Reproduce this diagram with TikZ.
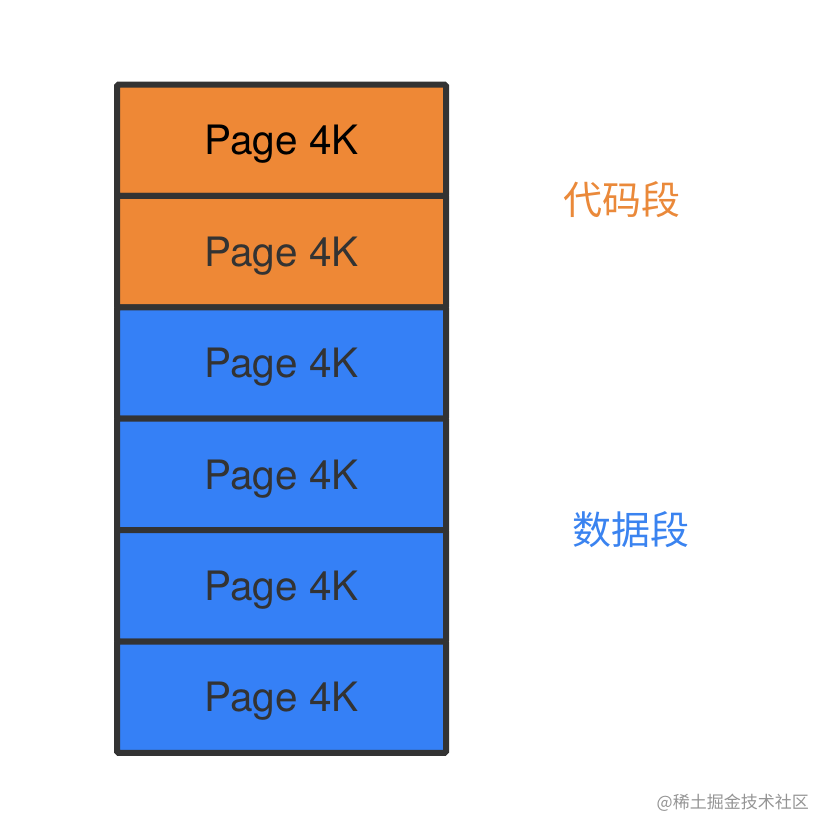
\documentclass[tikz,border=0pt]{standalone}
\usepackage{fontspec}
\setmainfont{TeX Gyre Heros}
\newfontfamily\cjk{Noto Sans CJK SC}
\usepackage{tikz}
\usetikzlibrary{positioning}

\definecolor{codeorange}{RGB}{238,136,54}
\definecolor{datablue}{RGB}{53,128,246}
\definecolor{borderdark}{RGB}{51,51,51}
\definecolor{labelorange}{RGB}{234,137,58}
\definecolor{labelblue}{RGB}{58,131,240}

\begin{document}
\begin{tikzpicture}[x=1pt,y=-1pt,node distance=0pt,
                    page node/.style={rectangle,draw=borderdark,line width=6pt,rounded corners=1.5pt,
                      minimum width=329pt,minimum height=111.4pt,inner sep=0pt,outer sep=0pt,text depth=0pt,
                      text=borderdark,font=\fontsize{40.5}{44}\selectfont},
                    seg node/.style={inner sep=0pt,anchor=west,font=\cjk\fontsize{39}{44}\selectfont}]

		\useasboundingbox (0,0) rectangle (830,836);

		\node[page node,fill=codeorange,text=black] (p1) at (281.5,140.2) {Page 4K};
		\node[page node,fill=codeorange] (p2) [below=of p1] {Page 4K};
		\node[page node,fill=datablue] (p3) [below=of p2] {Page 4K};
		\node[page node,fill=datablue] (p4) [below=of p3] {Page 4K};
		\node[page node,fill=datablue] (p5) [below=of p4] {Page 4K};
		\node[page node,fill=datablue] (p6) [below=of p5] {Page 4K};

		\node[seg node,text=labelorange] (code) [right=117pt of p1.south east,yshift=-4pt] {代码段};
		\node[seg node,text=labelblue] (data) [right=126pt of p4.south east] {数据段};

		\node[inner sep=0pt,anchor=east,text=black!42,font=\cjk\fontsize{17}{20}\selectfont] (mark) at (809,803) {@稀土掘金技术社区};
	\end{tikzpicture}
\end{document}
